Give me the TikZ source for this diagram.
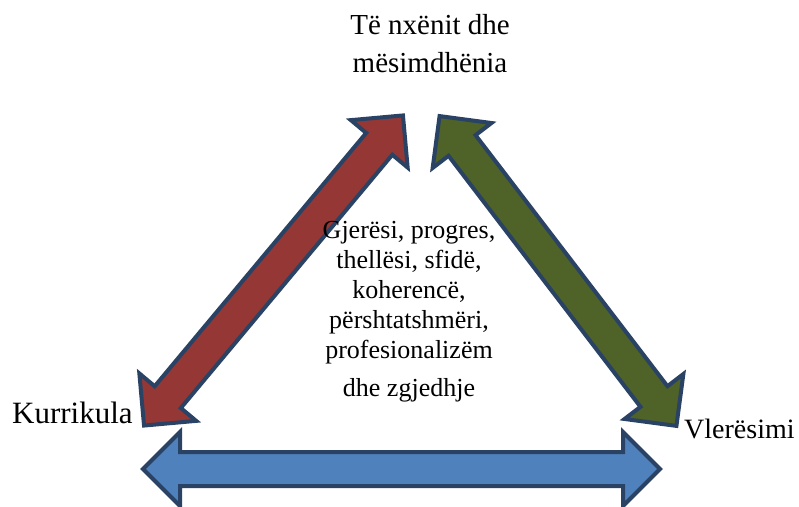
\documentclass[tikz,border=0pt]{standalone}
\usepackage{fontspec}
\setmainfont{Liberation Serif}
\definecolor{outl}{HTML}{2A4365}
\definecolor{redf}{HTML}{953735}
\definecolor{greenf}{HTML}{4F6228}
\definecolor{bluef}{HTML}{4F81BD}
\tikzset{
  pics/dblarrow/.style 2 args={code={
    \pgfmathsetmacro\hl{#1}
    \def\hh{37}\def\HH{37}\def\ww{17}
    \filldraw[draw=outl, line width=4pt, fill=#2, line join=miter]
      (-\hl,0) -- ({-\hl+\hh},\HH) -- ({-\hl+\hh},\ww) -- ({\hl-\hh},\ww)
      -- ({\hl-\hh},\HH) -- (\hl,0) -- ({\hl-\hh},-\HH) -- ({\hl-\hh},-\ww)
      -- ({-\hl+\hh},-\ww) -- ({-\hl+\hh},-\HH) -- cycle;
  }},
  lbl/.style={inner sep=0pt, font=\fontsize{29}{38}\selectfont, align=center},
  ctr/.style={inner sep=0pt, font=\fontsize{26}{30}\selectfont, align=center}
}
\begin{document}
\begin{tikzpicture}[x=1pt,y=1pt]
\useasboundingbox (0,0) rectangle (799,506);
\clip (0,0) rectangle (799,506);
\coordinate (redc) at (273.5,235.5);
\coordinate (greenc) at (558,235);
\coordinate (bluec) at (401.5,37);
\pic[rotate=50.14] at (redc) {dblarrow={202}{redf}};
\pic[rotate=-52.6] at (greenc) {dblarrow={195}{greenf}};
\pic at (bluec) {dblarrow={258.5}{bluef}};
\node[lbl] (top) at (430,462) {Të nxënit dhe\\mësimdhënia};
\node[lbl, anchor=base west, font=\fontsize{31}{38}\selectfont] (kur) at (12,83) {Kurrikula};
\node[lbl, anchor=base west, font=\fontsize{28}{38}\selectfont] (vle) at (684,68) {Vlerësimi};
\node[ctr] (mid) at (409,194) {Gjerësi, progres,\\thellësi, sfidë,\\koherencë,\\përshtatshmëri,\\profesionalizëm\\[8pt]dhe zgjedhje};
\end{tikzpicture}
\end{document}
